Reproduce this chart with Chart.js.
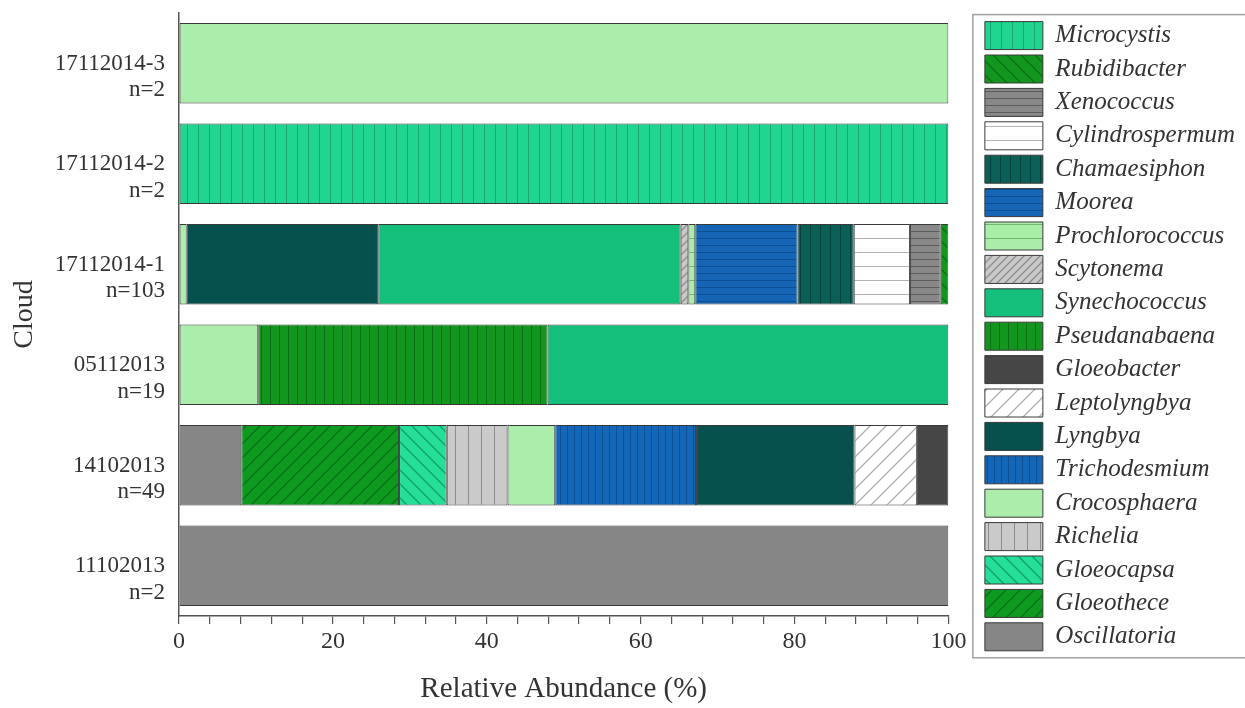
<!DOCTYPE html>
<html>
<head>
<meta charset="utf-8">
<script src="https://cdn.jsdelivr.net/npm/chart.js@4.4.0/dist/chart.umd.min.js"></script>
<style>
html,body{margin:0;padding:0;background:#fff;overflow:hidden}
#wrap{width:1245px;height:708px;position:relative}
</style>
</head>
<body>
<div id="wrap"><canvas id="c"></canvas></div>
<script>
// ---- data ----
const categories = [
  ['17112014-3', 'n=2'],
  ['17112014-2', 'n=2'],
  ['17112014-1', 'n=103'],
  ['05112013', 'n=19'],
  ['14102013', 'n=49'],
  ['11102013', 'n=2']
];
const xTickLabels = [0, 20, 40, 60, 80, 100];

// values per category (same order as categories), % relative abundance
const oscillatoria    = [0,   0,   0,    0,    8.1,  100];
const gloeothece      = [0,   0,   0,    0,    20.5, 0];
const gloeocapsa      = [0,   0,   0,    0,    6.2,  0];
const richelia        = [0,   0,   0,    0,    7.9,  0];
const crocosphaera    = [100, 0,   1.0,  10.3, 6.2,  0];
const trichodesmium   = [0,   0,   0,    0,    18.3, 0];
const lyngbya         = [0,   0,   24.9, 0,    20.6, 0];
const leptolyngbya    = [0,   0,   0,    0,    8.1,  0];
const gloeobacter     = [0,   0,   0,    0,    4.1,  0];
const pseudanabaena   = [0,   0,   0,    37.6, 0,    0];
const synechococcus   = [0,   0,   39.3, 52.1, 0,    0];
const scytonema       = [0,   0,   1.0,  0,    0,    0];
const prochlorococcus = [0,   0,   0.9,  0,    0,    0];
const moorea          = [0,   0,   13.3, 0,    0,    0];
const chamaesiphon    = [0,   0,   7.3,  0,    0,    0];
const cylindrospermum = [0,   0,   7.3,  0,    0,    0];
const xenococcus      = [0,   0,   4.0,  0,    0,    0];
const rubidibacter    = [0,   0,   1.0,  0,    0,    0];
const microcystis     = [0,   100, 0,    0,    0,    0];

// stack order (left to right); legend shows it reversed
const seriesNames = ['Oscillatoria','Gloeothece','Gloeocapsa','Richelia','Crocosphaera','Trichodesmium',
  'Lyngbya','Leptolyngbya','Gloeobacter','Pseudanabaena','Synechococcus','Scytonema','Prochlorococcus',
  'Moorea','Chamaesiphon','Cylindrospermum','Xenococcus','Rubidibacter','Microcystis'];
const seriesValues = [oscillatoria, gloeothece, gloeocapsa, richelia, crocosphaera, trichodesmium,
  lyngbya, leptolyngbya, gloeobacter, pseudanabaena, synechococcus, scytonema, prochlorococcus,
  moorea, chamaesiphon, cylindrospermum, xenococcus, rubidibacter, microcystis];

// ---- styles ----
// [background, line colour, pattern kind, spacing]
const seriesStyles = [
  ['#868686', null, 'solid', 0],      // Oscillatoria
  ['#0e991f', '#06701a', 'f', 14],    // Gloeothece  "/"
  ['#25df99', '#119e68', 'b', 14],    // Gloeocapsa  "\"
  ['#cacaca', '#8c8c8c', 'v', 13],    // Richelia
  ['#abeeab', null, 'solid', 0],      // Crocosphaera
  ['#1466b8', '#0c4f92', 'v', 7],     // Trichodesmium
  ['#06514d', null, 'solid', 0],      // Lyngbya
  ['#ffffff', '#b0b0b0', 'f', 16],    // Leptolyngbya
  ['#464646', null, 'solid', 0],      // Gloeobacter
  ['#12961e', '#0a6e15', 'v', 9],     // Pseudanabaena
  ['#14be7b', null, 'solid', 0],      // Synechococcus
  ['#c9c9c9', '#8e8e8e', 'f', 8],     // Scytonema
  ['#a9eda9', '#6fb66f', 'h', 14],    // Prochlorococcus
  ['#1565b4', '#0d4f93', 'h', 7],     // Moorea
  ['#0b5f56', '#06423c', 'v', 10],    // Chamaesiphon
  ['#ffffff', '#b3b3b3', 'h', 14],    // Cylindrospermum
  ['#888888', '#5c5c5c', 'h', 7],     // Xenococcus
  ['#12961e', '#0a6e15', 'b', 14],    // Rubidibacter
  ['#20d590', '#14a86f', 'v', 11]     // Microcystis
];

function makeFill(bg, line, kind, s) {
  if (kind === 'solid') return bg;
  const c = document.createElement('canvas');
  c.width = s; c.height = s;
  const g = c.getContext('2d');
  g.fillStyle = bg; g.fillRect(0, 0, s, s);
  g.strokeStyle = line; g.lineWidth = (kind === 'f' || kind === 'b') ? 1.3 : 1;
  g.beginPath();
  if (kind === 'v') { g.moveTo(0.5, 0); g.lineTo(0.5, s); }
  else if (kind === 'h') { g.moveTo(0, 0.5); g.lineTo(s, 0.5); }
  else if (kind === 'f') {
    g.moveTo(0, s); g.lineTo(s, 0);
    g.moveTo(-2, 2); g.lineTo(2, -2);
    g.moveTo(s - 2, s + 2); g.lineTo(s + 2, s - 2);
  } else if (kind === 'b') {
    g.moveTo(0, 0); g.lineTo(s, s);
    g.moveTo(-2, s - 2); g.lineTo(2, s + 2);
    g.moveTo(s - 2, -2); g.lineTo(s + 2, 2);
  }
  g.stroke();
  return g.createPattern(c, 'repeat');
}

const SERIF = '"Liberation Serif", "Times New Roman", serif';
const LEGEND_FONT = 25, LEGEND_BOX_W = 58, LEGEND_BOX_H = 28, LEGEND_PAD = 5.4;
const PLOT_RIGHT = 953;

// measure legend width to reserve room between plot and legend
const mctx = document.createElement('canvas').getContext('2d');
mctx.font = 'italic ' + LEGEND_FONT + 'px ' + SERIF;
let maxText = 0;
seriesNames.forEach(n => { maxText = Math.max(maxText, mctx.measureText(n).width); });
const legendW = 2 * LEGEND_PAD + LEGEND_BOX_W + LEGEND_FONT / 2 + maxText;
const gapW = Math.max(0, 1245 - PLOT_RIGHT - legendW);

const datasets = seriesNames.map((name, i) => {
  const st = seriesStyles[i];
  return {
    label: name,
    data: seriesValues[i].map(v => (v > 0 ? v : null)),
    backgroundColor: makeFill(st[0], st[1], st[2], st[3]),
    borderColor: '#3a3a3a',
    borderWidth: 1,
    borderSkipped: false,
    categoryPercentage: 1.0,
    barPercentage: 0.8
  };
});

const legendFrame = {
  id: 'legendFrame',
  afterDraw(chart) {
    const hb = chart.legend && chart.legend.legendHitBoxes;
    if (!hb || !hb.length) return;
    const first = hb[0], last = hb[hb.length - 1];
    const ctx = chart.ctx;
    ctx.save();
    ctx.strokeStyle = '#a0a0a0';
    ctx.lineWidth = 1.5;
    const top = first.top - 7;
    ctx.strokeRect(first.left - 12, top, chart.width, last.top + last.height + 7 - top);
    ctx.restore();
  }
};

new Chart(document.getElementById('c'), {
  type: 'bar',
  data: { labels: categories, datasets: datasets },
  plugins: [legendFrame],
  options: {
    indexAxis: 'y',
    responsive: true,
    maintainAspectRatio: false,
    animation: false,
    devicePixelRatio: 1,
    layout: { padding: { top: 13, right: 0, bottom: 0, left: 0 } },
    plugins: {
      tooltip: { enabled: false },
      legend: {
        position: 'right',
        align: 'start',
        reverse: true,
        maxWidth: 400,
        title: { display: true, text: ' ', font: { size: 1 }, padding: { top: 2, bottom: 0 } },
        labels: {
          boxWidth: LEGEND_BOX_W,
          boxHeight: LEGEND_BOX_H,
          padding: LEGEND_PAD,
          color: '#333',
          font: { family: SERIF, size: LEGEND_FONT, style: 'italic' }
        }
      }
    },
    scales: {
      x: {
        type: 'linear',
        stacked: true,
        min: 0, max: 100,
        afterFit: s => { s.height = 92; },
        border: { display: true, color: '#555', width: 1.5 },
        grid: { display: true, drawOnChartArea: false, drawTicks: true, tickLength: 8, color: '#555', lineWidth: 1.2 },
        ticks: {
          stepSize: 4,
          padding: 3,
          color: '#333',
          font: { family: SERIF, size: 24 },
          maxRotation: 0,
          autoSkip: false,
          callback: v => (xTickLabels.includes(v) ? String(v) : '')
        },
        title: {
          display: true,
          text: 'Relative Abundance (%)',
          color: '#333',
          font: { family: SERIF, size: 29 },
          padding: { top: 0, bottom: 1 }
        }
      },
      y: {
        type: 'category',
        stacked: true,
        afterFit: s => { s.width = 179; s.paddingTop = 0; s.paddingBottom = 0; },
        border: { display: true, color: '#555', width: 1.5 },
        grid: { display: false, drawTicks: false },
        ticks: {
          color: '#333',
          padding: 14,
          labelOffset: 13.5,
          font: { family: SERIF, size: 23, lineHeight: 1.15 }
        },
        title: {
          display: true,
          text: 'Cloud',
          color: '#333',
          font: { family: SERIF, size: 28 },
          padding: { top: 8, bottom: 0 }
        }
      },
      gap: {
        type: 'linear',
        position: 'right',
        display: true,
        afterFit: s => { s.width = gapW; s.paddingTop = 0; s.paddingBottom = 0; },
        border: { display: false },
        grid: { display: false, drawTicks: false },
        ticks: { display: false }
      }
    }
  }
});
</script>
</body>
</html>
